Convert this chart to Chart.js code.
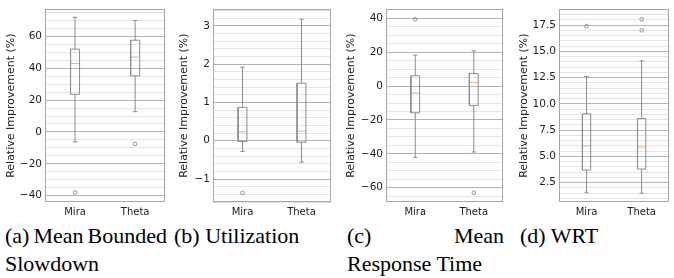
<!DOCTYPE html>
<html>
<head>
<meta charset="utf-8">
<script src="https://cdn.jsdelivr.net/npm/chart.js@4"></script>
<style>
  body { margin: 0; background: #fff; }
  #wrap { position: relative; width: 674px; height: 278px; overflow: hidden; background: #fff; }
  canvas { position: absolute; top: 0; }
  .cap { position: absolute; top: 222px; width: 160px; font-family: 'Liberation Serif', 'Times New Roman', serif;
         font-size: 22px; line-height: 28px; color: #000; text-align: justify; }
</style>
</head>
<body>
<div id="wrap">
  <canvas id="c0" width="170" height="222" style="left:0px"></canvas>
  <canvas id="c1" width="170" height="222" style="left:170px"></canvas>
  <canvas id="c2" width="170" height="222" style="left:340px"></canvas>
  <canvas id="c3" width="164" height="222" style="left:510px"></canvas>
  <div class="cap" style="left:5px; width:162px; word-spacing:-2px">(a) Mean Bounded Slowdown</div>
  <div class="cap" style="left:174px">(b) Utilization</div>
  <div class="cap" style="left:347px; width:157px">(c) Mean Response Time</div>
  <div class="cap" style="left:520px">(d) WRT</div>
</div>
<script>
const categories = ['Mira', 'Theta'];

// box stats: [low whisker, q1, median, q3, high whisker]
const slowdownMira = [-6.3, 23.6, 43.0, 52.0, 72.0];
const slowdownTheta = [12.7, 35.2, 47.0, 57.6, 70.0];
const slowdownOutliers = [[-38.0], [-7.5]];

const utilMira = [-0.28, -0.02, 0.23, 0.87, 1.92];
const utilTheta = [-0.56, -0.04, 0.25, 1.50, 3.17];
const utilOutliers = [[-1.36], []];

const responseMira = [-42.1, -15.8, -4.0, 6.1, 18.3];
const responseTheta = [-38.9, -11.4, 2.1, 7.4, 20.8];
const responseOutliers = [[39.4], [-63.0]];

const wrtMira = [1.58, 3.7, 6.0, 9.05, 12.6];
const wrtTheta = [1.5, 3.8, 5.9, 8.6, 14.1];
const wrtOutliers = [[17.4], [18.05, 17.0]];

// labelled (major) ticks
const slowdownTicks = [-40, -20, 0, 20, 40, 60];
const utilTicks = [-1, 0, 1, 2, 3];
const responseTicks = [-60, -40, -20, 0, 20, 40];
const wrtTicks = [2.5, 5.0, 7.5, 10.0, 12.5, 15.0, 17.5];

const yTitle = 'Relative Improvement (%)';
const boxColor = '#8c8c8c';
const medianColor = '#f8ad6e';
const majorGrid = '#b4b4b4';
const minorGrid = '#e4e4e4';
const frameColor = '#a6a6a6';
const textColor = '#222';

Chart.defaults.font.family = 'DejaVu Sans';
Chart.defaults.font.size = 10;

const panels = [
  { id: 'c0', stats: [slowdownMira, slowdownTheta], fliers: slowdownOutliers, ticks: slowdownTicks,
    min: -44, max: 77, step: 5, dec: 0, padLeft: 0, axisW: 45, padRight: 4 },
  { id: 'c1', stats: [utilMira, utilTheta], fliers: utilOutliers, ticks: utilTicks,
    min: -1.6, max: 3.43, step: 0.2, dec: 0, padLeft: 3, axisW: 40, padRight: 9 },
  { id: 'c2', stats: [responseMira, responseTheta], fliers: responseOutliers, ticks: responseTicks,
    min: -68.4, max: 45.3, step: 5, dec: 0, padLeft: 0, axisW: 46, padRight: 7 },
  { id: 'c3', stats: [wrtMira, wrtTheta], fliers: wrtOutliers, ticks: wrtTicks,
    min: 0.66, max: 19.0, step: 0.5, dec: 1, padLeft: 3, axisW: 46, padRight: 1 }
];

const halfBox = 0.075;
const halfCap = 0.0375;

const framePlugin = {
  id: 'frame',
  beforeDatasetsDraw(chart) {
    const { ctx, chartArea: a } = chart;
    ctx.save();
    ctx.strokeStyle = frameColor;
    ctx.lineWidth = 1;
    ctx.strokeRect(Math.round(a.left) + 0.5, Math.round(a.top) + 0.5,
                   Math.round(a.right - a.left) - 1, Math.round(a.bottom - a.top) - 1);
    ctx.restore();
  }
};

function buildDatasets(stats, fliers) {
  const box = [], whisk = [], caps = [], med = [], fl = [];
  stats.forEach((s, i) => {
    const x = i + 1;
    const [lo, q1, m, q3, hi] = s;
    box.push({ x: x - halfBox, y: q1 }, { x: x + halfBox, y: q1 }, { x: x + halfBox, y: q3 },
             { x: x - halfBox, y: q3 }, { x: x - halfBox, y: q1 }, { x: x, y: null });
    whisk.push({ x: x, y: lo }, { x: x, y: q1 }, { x: x, y: null },
               { x: x, y: q3 }, { x: x, y: hi }, { x: x, y: null });
    caps.push({ x: x - halfCap, y: lo }, { x: x + halfCap, y: lo }, { x: x, y: null },
              { x: x - halfCap, y: hi }, { x: x + halfCap, y: hi }, { x: x, y: null });
    med.push({ x: x - halfBox, y: m }, { x: x + halfBox, y: m }, { x: x, y: null });
    fliers[i].forEach(v => fl.push({ x: x, y: v }));
  });
  const line = (data, color) => ({ data, showLine: true, borderColor: color, borderWidth: 1,
                                   pointRadius: 0, fill: false, spanGaps: false });
  return [
    line(whisk, boxColor),
    line(caps, boxColor),
    line(box, boxColor),
    line(med, medianColor),
    { data: fl, showLine: false, pointRadius: 1.8, borderWidth: 0.8, borderColor: '#777',
      backgroundColor: 'rgba(0,0,0,0)', pointStyle: 'circle' }
  ];
}

panels.forEach(p => {
  const minor = [];
  for (let v = Math.ceil(p.min / p.step) * p.step; v <= p.max + 1e-9; v += p.step) {
    minor.push(Math.round(v * 1000) / 1000);
  }
  const isMajor = v => p.ticks.some(t => Math.abs(t - v) < 1e-6);
  const fmt = v => (v < 0 ? '\u2212' : '') + Math.abs(v).toFixed(p.dec);

  new Chart(document.getElementById(p.id), {
    type: 'scatter',
    data: { datasets: buildDatasets(p.stats, p.fliers) },
    options: {
      responsive: false,
      animation: false,
      maintainAspectRatio: false,
      layout: { padding: { left: p.padLeft, right: p.padRight, top: 3, bottom: 0 } },
      plugins: { legend: { display: false }, tooltip: { enabled: false } },
      scales: {
        x: {
          type: 'linear', min: 0.5, max: 2.5,
          afterBuildTicks: ax => { ax.ticks = categories.map((c, i) => ({ value: i + 1 })); },
          afterFit: ax => { ax.height = 20; },
          grid: { display: false, drawTicks: false },
          border: { display: false },
          ticks: { callback: v => categories[Math.round(v) - 1], color: textColor, padding: 4,
                   autoSkip: false, maxRotation: 0 }
        },
        y: {
          type: 'linear', min: p.min, max: p.max,
          afterBuildTicks: ax => { ax.ticks = minor.map(v => ({ value: v })); },
          afterFit: ax => { ax.width = p.axisW; },
          grid: { drawTicks: false, lineWidth: 1,
                  color: c => (c.tick && isMajor(c.tick.value)) ? majorGrid : minorGrid },
          border: { display: false },
          ticks: { autoSkip: false, padding: 3, color: textColor, font: { size: 10.5 },
                   callback: v => isMajor(v) ? fmt(v) : '' },
          title: { display: true, text: yTitle, color: textColor, font: { size: 11 },
                   padding: { top: 5, bottom: 0 } }
        }
      }
    },
    plugins: [framePlugin]
  });
});
</script>
</body>
</html>
